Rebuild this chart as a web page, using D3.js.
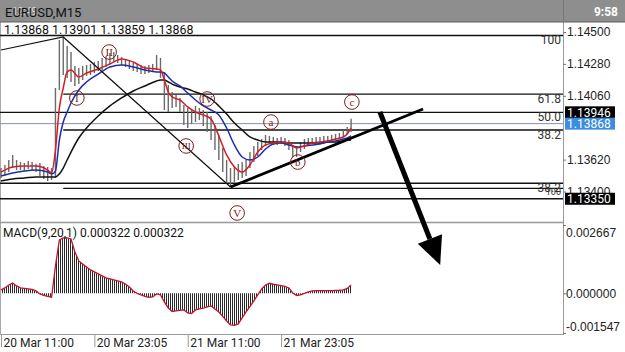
<!DOCTYPE html>
<html lang="en">
<head>
<meta charset="utf-8">
<title>EURUSD,M15</title>
<script src="https://cdn.jsdelivr.net/npm/d3@7"></script>
<style>
  body { margin: 0; background: #fff; }
  svg { display: block; font-family: Roboto, "Noto Sans", sans-serif; }
</style>
</head>
<body>
<svg id="chart" width="625" height="352"></svg>
<script>
// 30 min bars, index 0 = 20 Mar 11:00
var barHigh = [1.13562,1.13583,1.13617,1.13652,1.13617,1.13603,1.13597,1.13610,1.13603,1.13590,
  1.13597,1.13576,1.13569,1.13562,1.14114,1.14445,1.14466,1.14403,1.14362,1.14266,
  1.14252,1.14266,1.14272,1.14279,1.14293,1.14300,1.14321,1.14334,1.14355,1.14362,
  1.14341,1.14328,1.14314,1.14300,1.14286,1.14279,1.14272,1.14266,1.14272,1.14279,
  1.14341,1.14321,1.14224,1.14134,1.14086,1.14066,1.14045,1.13997,1.13976,1.13962,
  1.13990,1.13976,1.13962,1.13948,1.13921,1.13859,1.13790,1.13700,1.13617,1.13562,
  1.13576,1.13590,1.13603,1.13617,1.13672,1.13714,1.13741,1.13762,1.13790,1.13783,
  1.13776,1.13769,1.13776,1.13769,1.13755,1.13721,1.13714,1.13741,1.13762,1.13769,
  1.13769,1.13776,1.13776,1.13783,1.13783,1.13790,1.13797,1.13803,1.13824,1.13845,1.13901];

var barLow = [1.13493,1.13507,1.13534,1.13562,1.13548,1.13548,1.13541,1.13555,1.13548,1.13534,
  1.13507,1.13486,1.13472,1.13479,1.13493,1.14100,1.14203,1.14183,1.14155,1.14128,
  1.14141,1.14169,1.14197,1.14203,1.14217,1.14231,1.14238,1.14259,1.14279,1.14293,
  1.14286,1.14272,1.14259,1.14245,1.14231,1.14224,1.14210,1.14210,1.14217,1.14224,
  1.14238,1.14183,1.13962,1.13948,1.13976,1.13983,1.13948,1.13859,1.13838,1.13866,
  1.13879,1.13893,1.13852,1.13810,1.13755,1.13686,1.13617,1.13534,1.13465,1.13431,
  1.13465,1.13479,1.13493,1.13507,1.13562,1.13603,1.13645,1.13686,1.13714,1.13728,
  1.13721,1.13721,1.13728,1.13714,1.13686,1.13638,1.13638,1.13672,1.13693,1.13721,
  1.13728,1.13734,1.13734,1.13741,1.13748,1.13748,1.13755,1.13762,1.13776,1.13797,1.13810];

// moving averages, read at these bar indexes
var maIdx = [0,3,6,9,12,13,14,15,16,17,18,20,22,25,28,31,34,37,40,41,42,43,44,46,48,50,52,54,56,58,60,62,64,66,68,70,72,74,76,78,80,82,84,86,88,89,90];

var maRed = [1.13534,1.13569,1.13576,1.13576,1.13548,1.13528,1.13686,1.13976,1.14114,1.14224,
  1.14238,1.14190,1.14217,1.14245,1.14279,1.14314,1.14293,1.14252,1.14245,1.14238,
  1.14169,1.14086,1.14052,1.14031,1.13983,1.13948,1.13928,1.13900,1.13783,1.13652,
  1.13569,1.13534,1.13583,1.13672,1.13721,1.13734,1.13741,1.13734,1.13700,1.13714,
  1.13734,1.13741,1.13748,1.13762,1.13776,1.13797,1.13838];

var maBlue = [1.13507,1.13528,1.13541,1.13548,1.13534,1.13521,1.13541,1.13755,1.13879,1.13948,
  1.14010,1.14100,1.14155,1.14210,1.14259,1.14272,1.14259,1.14238,1.14224,1.14224,
  1.14217,1.14190,1.14162,1.14128,1.14079,1.14031,1.13990,1.13962,1.13928,1.13838,
  1.13721,1.13638,1.13617,1.13638,1.13693,1.13728,1.13734,1.13721,1.13707,1.13714,
  1.13721,1.13728,1.13741,1.13748,1.13762,1.13769,1.13783];

var maBlack = [1.13472,1.13486,1.13493,1.13500,1.13500,1.13500,1.13500,1.13521,1.13562,1.13617,
  1.13672,1.13769,1.13838,1.13921,1.13990,1.14045,1.14093,1.14128,1.14162,1.14169,
  1.14169,1.14155,1.14141,1.14121,1.14107,1.14086,1.14066,1.14038,1.13990,1.13934,
  1.13872,1.13824,1.13776,1.13755,1.13741,1.13741,1.13741,1.13734,1.13734,1.13734,
  1.13734,1.13734,1.13741,1.13741,1.13748,1.13755,1.13755];

var macd = [0.000133,0.000211,0.000328,0.000406,0.000289,0.000211,0.000191,0.000172,0.000152,0.000094,
  -0.000023,-0.000082,-0.000121,-0.000152,0.001069,0.002083,0.002161,0.002161,0.002122,0.001615,
  0.001264,0.001147,0.001030,0.000913,0.000835,0.000757,0.000679,0.000601,0.000562,0.000523,
  0.000484,0.000445,0.000367,0.000250,0.000094,-0.000004,-0.000062,-0.000121,-0.000160,-0.000140,
  -0.000023,-0.000062,-0.000336,-0.000570,-0.000706,-0.000687,-0.000667,-0.000648,-0.000765,-0.000784,
  -0.000648,-0.000609,-0.000581,-0.000531,-0.000492,-0.000609,-0.000726,-0.000901,-0.001077,-0.001233,
  -0.001252,-0.001194,-0.000960,-0.000726,-0.000519,-0.000297,-0.000062,0.000172,0.000328,0.000394,
  0.000355,0.000328,0.000300,0.000269,0.000211,0.000016,-0.000082,-0.000062,-0.000004,0.000055,
  0.000094,0.000105,0.000105,0.000105,0.000105,0.000105,0.000113,0.000121,0.000133,0.000191,0.000322];

// horizontal level lines (fibo + support); start = bar index, null = left edge
var levelPrice = [1.14476, 1.14072, 1.13946, 1.13824, 1.13457, 1.13422, 1.13350];
var levelStart = [null, 16, null, 16, null, 16, null];
var levelText = ["100", "61.8", "50.0", "38.2", "38.2", "100", ""];

var bidPrice = 1.13868;

// elliott wave zigzag and trend line
var waveIdx = [0, 16, 59];
var wavePrice = [1.14376, 1.14466, 1.13431];
var trendIdx = [59, 108.5];
var trendPrice = [1.13431, 1.13969];
var arrowIdx = [97.4, 112.9];
var arrowPrice = [1.13948, 1.12893];

var markText = ["I", "II", "III", "IV", "V", "a", "b", "c"];
var markIdx = [19.5, 27.8, 47.6, 53, 60.7, 69.4, 76.3, 90.2];
var markPrice = [1.14045, 1.14362, 1.13714, 1.14038, 1.13252, 1.13879, 1.13603, 1.14017];

// axes
var priceTicks = [1.145, 1.1428, 1.1406, 1.1362, 1.134];
var macdTicks = [0.002667, 0, -0.001547];
var timeIdx = [0, 24, 48, 72];
var timeText = ["20 Mar 11:00", "20 Mar 23:05", "21 Mar 11:00", "21 Mar 23:05"];
var priceBoxes = [[1.13946, "#000"], [1.13868, "#3b8de0"], [1.1335, "#000"]];

var width = 625, height = 352;
var axisX = 563;
var svg = d3.select("#chart");

var x = d3.scaleLinear().domain([0, 90]).range([1, 351.1]);
var y = d3.scaleLinear().domain([1.1335, 1.145]).range([198.75, 32]);
var yM = d3.scaleLinear().domain([-0.001547, 0.002667]).range([333, 225]);

// hatch pattern for the histogram
var defs = svg.append("defs");
defs.append("pattern")
  .attr("id", "hatch")
  .attr("width", 2).attr("height", 4)
  .attr("patternUnits", "userSpaceOnUse")
  .append("rect").attr("width", 1).attr("height", 4).attr("fill", "#2a2a2a");

// frame
svg.append("line").attr("x1", 0.5).attr("x2", 0.5).attr("y1", 22).attr("y2", 334)
  .attr("stroke", "#aaa");
svg.append("line").attr("x1", 0).attr("x2", axisX).attr("y1", 222.5).attr("y2", 222.5)
  .attr("stroke", "#999").attr("stroke-width", 1.5);
svg.append("line").attr("x1", 0).attr("x2", axisX).attr("y1", 334.5).attr("y2", 334.5)
  .attr("stroke", "#999");
svg.append("line").attr("x1", axisX + 0.5).attr("x2", axisX + 0.5).attr("y1", 22).attr("y2", 335)
  .attr("stroke", "#999");

// level lines
svg.selectAll(".level")
  .data(levelPrice)
  .enter()
  .append("line")
  .attr("x1", (d, i) => levelStart[i] === null ? 0 : x(levelStart[i]))
  .attr("x2", axisX)
  .attr("y1", d => y(d)).attr("y2", d => y(d))
  .attr("stroke", "#111").attr("stroke-width", 1.3);

svg.selectAll(".levelText")
  .data(levelPrice)
  .enter()
  .append("text")
  .attr("x", axisX - 2)
  .attr("y", (d, i) => y(d) + (i == 5 ? 7 : 9))
  .attr("text-anchor", "end")
  .attr("font-size", (d, i) => i == 5 ? 9 : 12)
  .attr("fill", "#333")
  .text((d, i) => levelText[i]);

// bid line
svg.append("line").attr("x1", 0).attr("x2", axisX)
  .attr("y1", y(bidPrice)).attr("y2", y(bidPrice))
  .attr("stroke", "#8790ad").attr("stroke-width", 1);

// bars
svg.selectAll(".bar")
  .data(barHigh)
  .enter()
  .append("line")
  .attr("x1", (d, i) => x(i)).attr("x2", (d, i) => x(i))
  .attr("y1", d => y(d))
  .attr("y2", (d, i) => y(barLow[i]))
  .attr("stroke", "#6a6a6a").attr("stroke-width", 1.4);

// moving averages
function maLine(values, color) {
  var line = d3.line()
    .x((d, i) => x(maIdx[i]))
    .y(d => y(d))
    .curve(d3.curveMonotoneX);
  svg.append("path").attr("d", line(values))
    .attr("fill", "none").attr("stroke", color).attr("stroke-width", 1.5);
}
maLine(maBlack, "#111");
maLine(maBlue, "#1c2ea8");
maLine(maRed, "#d21f26");

// wave zigzag
svg.append("path")
  .attr("d", d3.line()(waveIdx.map((d, i) => [x(d), y(wavePrice[i])])))
  .attr("fill", "none").attr("stroke", "#111").attr("stroke-width", 1.2);

// trend line
svg.append("path")
  .attr("d", d3.line()(trendIdx.map((d, i) => [x(d), y(trendPrice[i])])))
  .attr("fill", "none").attr("stroke", "#000").attr("stroke-width", 2.8);

// wave labels
var marks = svg.selectAll(".mark")
  .data(markText)
  .enter()
  .append("g")
  .attr("transform", (d, i) => "translate(" + x(markIdx[i]) + "," + y(markPrice[i]) + ")");
marks.append("circle").attr("r", 7.3)
  .attr("fill", "none").attr("stroke", "#7d1d1d").attr("stroke-width", 1);
marks.append("text")
  .attr("text-anchor", "middle").attr("dy", "0.35em")
  .attr("font-family", "Liberation Serif, serif")
  .attr("font-size", d => d.length > 2 ? 9 : 11)
  .attr("fill", "#7d1d1d")
  .text(d => d);

// big arrow
var ax0 = x(arrowIdx[0]), ay0 = y(arrowPrice[0]);
var ax1 = x(arrowIdx[1]), ay1 = y(arrowPrice[1]);
var len = Math.hypot(ax1 - ax0, ay1 - ay0);
var ux = (ax1 - ax0) / len, uy = (ay1 - ay0) / len;
var bx = ax1 - 28 * ux, by = ay1 - 28 * uy;
svg.append("line").attr("x1", ax0).attr("y1", ay0).attr("x2", bx).attr("y2", by)
  .attr("stroke", "#000").attr("stroke-width", 5);
svg.append("path")
  .attr("d", "M" + ax1 + "," + ay1 +
    "L" + (bx - 13 * uy) + "," + (by + 13 * ux) +
    "L" + (bx + 13 * uy) + "," + (by - 13 * ux) + "Z")
  .attr("fill", "#000");

// macd histogram and signal
svg.append("path")
  .attr("d", d3.area().x((d, i) => x(i)).y0(yM(0)).y1(d => yM(d))(macd))
  .attr("fill", "url(#hatch)");
svg.append("path")
  .attr("d", d3.line().x((d, i) => x(i)).y(d => yM(d))(macd))
  .attr("fill", "none").attr("stroke", "#c4122f").attr("stroke-width", 1.3);

svg.append("text").attr("x", 3).attr("y", 237).attr("font-size", 12).attr("fill", "#111")
  .text("MACD(9,20,1) 0.000322 0.000322");

// price axis
var pAxis = svg.append("g")
  .attr("transform", "translate(" + axisX + ",0)")
  .call(d3.axisRight(y).tickValues(priceTicks).tickFormat(d3.format(".5f")).tickSize(3).tickPadding(1));
pAxis.select(".domain").remove();
pAxis.selectAll("line").attr("stroke", "#777");
pAxis.selectAll("text").attr("font-size", 12).attr("fill", "#222").attr("font-family", null);

// price boxes
var boxes = svg.selectAll(".pbox")
  .data(priceBoxes)
  .enter()
  .append("g")
  .attr("transform", d => "translate(565," + (y(d[0]) - 6) + ")");
boxes.append("rect").attr("width", 50).attr("height", 12).attr("fill", d => d[1]);
boxes.append("text").attr("x", 2).attr("y", 10.5)
  .attr("font-size", 12).attr("fill", "#fff")
  .text(d => d[0].toFixed(5));

// macd axis
var mAxis = svg.append("g")
  .attr("transform", "translate(" + axisX + ",0)")
  .call(d3.axisRight(yM).tickValues(macdTicks).tickFormat(d3.format(".6f")).tickSize(3).tickPadding(0));
mAxis.select(".domain").remove();
mAxis.selectAll("line").attr("stroke", "#777");
mAxis.selectAll("text").attr("font-size", 12).attr("fill", "#222").attr("font-family", null)
  .attr("dy", d => d > 0.002 ? "0.95em" : d < -0.001 ? "-0.2em" : "0.32em")
  .text(d => d3.format(".6f")(d).replace("−", "-"));

// time axis
svg.selectAll(".tick-t")
  .data(timeIdx)
  .enter()
  .append("line")
  .attr("x1", d => x(d) + 0.5).attr("x2", d => x(d) + 0.5)
  .attr("y1", 334).attr("y2", 347)
  .attr("stroke", "#999");
svg.selectAll(".label-t")
  .data(timeIdx)
  .enter()
  .append("text")
  .attr("x", d => x(d) + 2.5)
  .attr("y", 347)
  .attr("font-size", 12).attr("fill", "#222")
  .text((d, i) => timeText[i]);

// header values
svg.append("text").attr("x", 4).attr("y", 33.5).attr("font-size", 12.4).attr("fill", "#111")
  .text("1.13868 1.13901 1.13859 1.13868");

// status bar
svg.append("rect").attr("width", width).attr("height", 22).attr("fill", "#8e8e8e");
svg.append("line").attr("x1", 0).attr("x2", width).attr("y1", 22).attr("y2", 22)
  .attr("stroke", "#5f5f5f").attr("stroke-width", 1.2);
svg.append("line").attr("x1", axisX + 0.5).attr("x2", axisX + 0.5).attr("y1", 0).attr("y2", 22)
  .attr("stroke", "#777");
svg.append("text").attr("x", 618).attr("y", 16).attr("text-anchor", "end")
  .attr("font-size", 12).attr("font-weight", "bold").attr("fill", "#fff")
  .text("9:58");
svg.append("text").attr("x", 12).attr("y", 15).attr("font-size", 10).attr("fill", "#ddd")
  .text("12:49");
svg.append("text").attr("x", 5).attr("y", 17).attr("font-size", 13).attr("fill", "#111")
  .text("EURUSD,M15");
</script>
</body>
</html>
